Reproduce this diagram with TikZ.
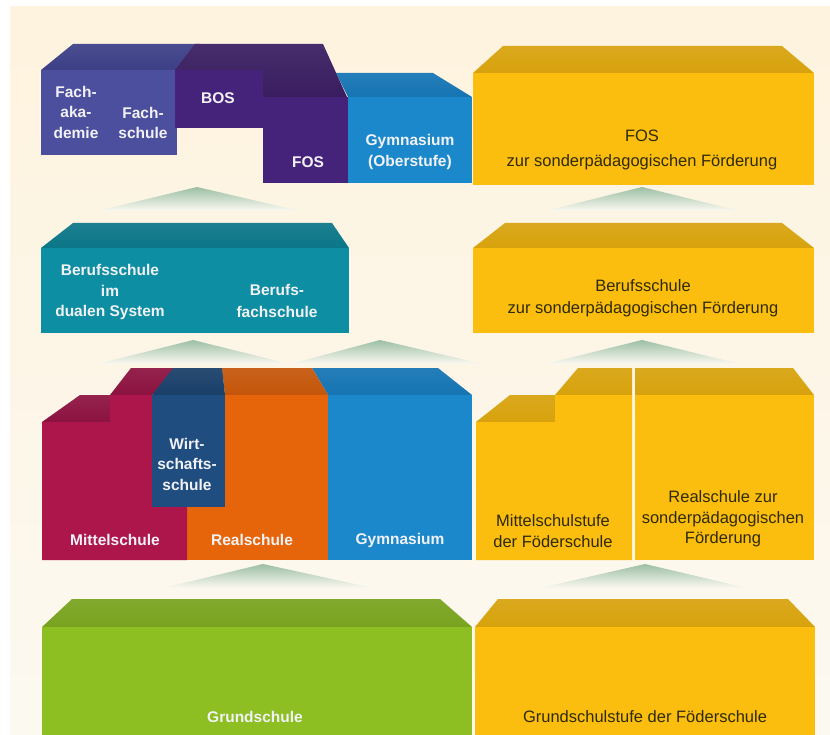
\documentclass[tikz,border=0pt]{standalone}
\usepackage{fontspec}
\setmainfont{Liberation Sans}

\definecolor{bgtop}{HTML}{FEF3DE}
\definecolor{bgbot}{HTML}{FCF9F1}
\definecolor{arrowgreen}{HTML}{9CBFA5}
\definecolor{labwhite}{HTML}{F2F2F6}
\definecolor{labdark}{HTML}{2E2A0C}
\definecolor{fachfront}{HTML}{4B4F9D}
\definecolor{fachtop}{HTML}{3D3F87}
\definecolor{bosfront}{HTML}{46237B}
\definecolor{bostop}{HTML}{391D60}
\definecolor{gymfront}{HTML}{1A88CA}
\definecolor{gymtop}{HTML}{1574B3}
\definecolor{yfront}{HTML}{FCBE0E}
\definecolor{ytop}{HTML}{D7A20C}
\definecolor{tealfront}{HTML}{0E8EA2}
\definecolor{tealtop}{HTML}{0A7688}
\definecolor{mittelfront}{HTML}{AD164B}
\definecolor{mitteltop}{HTML}{8C1240}
\definecolor{wirtfront}{HTML}{1F4D80}
\definecolor{wirttop}{HTML}{193E68}
\definecolor{realfront}{HTML}{E7650A}
\definecolor{realtop}{HTML}{C4560A}
\definecolor{grunfront}{HTML}{8DBE22}
\definecolor{gruntop}{HTML}{78A31E}

\begin{document}
\begin{tikzpicture}[x=1pt,y=-1pt,
    face/.style={fill=#1},
    roof/.style={top color=#1!93!white,bottom color=#1},
    lbl/.style={text=labwhite,font=\bfseries\fontsize{15.5}{20.5}\selectfont,align=center,inner sep=0pt},
    dlbl/.style={text=labdark,font=\fontsize{16.5}{20.5}\selectfont,align=center,inner sep=0pt}]

    \useasboundingbox (0,0) rectangle (830,735);
    \fill[white] (0,0) rectangle (830,735);
    \shade[top color=bgtop,bottom color=bgbot] (10,7) rectangle (830,735);

    % arrows between the levels
    \foreach \ax/\ay/\bl/\br in {197/187/97/300, 642/187/545/740,
            193/340/97/290, 380/340/290/483, 642/340/545/740,
            263/564/163/373, 645/564/540/747} {
            \shade[top color=arrowgreen,bottom color=bgbot]
                (\bl,\ay+24) -- (\ax,\ay) -- (\br,\ay+24) -- cycle;
        }

    % level 1
    \shade[roof=fachtop] (41,70) -- (73,44) -- (200,44) -- (180,70) -- cycle;
    \fill[face=fachfront] (41,70) rectangle (177,155);
    \shade[roof=gymtop] (336,73) -- (433,73) -- (472,97) -- (348,97) -- cycle;
    \fill[face=gymfront] (348,97) rectangle (472,183);
    \shade[roof=bostop] (175,70) -- (195,44) -- (323,44) -- (347,97)
        -- (263,97) -- (263,70) -- cycle;
    \fill[face=bosfront] (175,70) rectangle (263,128);
    \fill[face=bosfront] (263,97) rectangle (348,183);

    \shade[roof=ytop] (473,73) -- (503,46) -- (782,46) -- (814,73) -- cycle;
    \fill[face=yfront] (473,73) rectangle (814,185);

    % level 2
    \shade[roof=tealtop] (41,248) -- (73,223) -- (332,223) -- (349,248) -- cycle;
    \fill[face=tealfront] (41,248) rectangle (349,333);
    \shade[roof=ytop] (473,248) -- (505,223) -- (782,223) -- (814,248) -- cycle;
    \fill[face=yfront] (473,248) rectangle (814,333);

    % level 3
    \shade[roof=gymtop] (328,395) -- (312,368) -- (438,368) -- (472,395) -- cycle;
    \fill[face=gymfront] (328,395) rectangle (472,560);
    \shade[roof=realtop] (225,395) -- (222,368) -- (312,368) -- (328,395) -- cycle;
    \fill[face=realfront] (187,395) rectangle (328,560);
    \shade[roof=mitteltop] (42,422) -- (80,395) -- (110,395) -- (110,422) -- cycle;
    \shade[roof=mitteltop] (110,395) -- (131,368) -- (175,368) -- (152,395) -- cycle;
    \fill[face=mittelfront] (42,422) -- (110,422) -- (110,395) -- (152,395)
        -- (152,507) -- (187,507) -- (187,560) -- (42,560) -- cycle;
    \shade[roof=wirttop] (152,395) -- (173,368) -- (222,368) -- (225,395) -- cycle;
    \fill[face=wirtfront] (152,395) rectangle (225,507);

    \shade[roof=ytop] (476,422) -- (510,395) -- (555,395) -- (555,422) -- cycle;
    \shade[roof=ytop] (555,395) -- (578,368) -- (632,368) -- (632,395) -- cycle;
    \fill[face=yfront] (476,422) -- (555,422) -- (555,395) -- (632,395)
        -- (632,560) -- (476,560) -- cycle;
    \shade[roof=ytop] (635,395) -- (635,368) -- (793,368) -- (814,395) -- cycle;
    \fill[face=yfront] (635,395) rectangle (814,560);

    % level 4
    \shade[roof=gruntop] (42,627) -- (72,599) -- (440,599) -- (472,627) -- cycle;
    \fill[face=grunfront] (42,627) rectangle (472,735);
    \shade[roof=ytop] (475,627) -- (498,599) -- (788,599) -- (815,627) -- cycle;
    \fill[face=yfront] (475,627) rectangle (815,735);

    % labels
    \begin{scope}[lbl]
        \node (fachakad) at (76,112) {Fach-\\aka-\\demie};
        \node (fachschule) at (143,123) {Fach-\\schule};
        \node (bos) at (218,98) {BOS};
        \node (fos) at (308,162) {FOS};
        \node (gymob) at (410,152) {Gymnasium\\(Oberstufe)};
        \node (berufsdual) at (110,292) {Berufsschule\\im\\dualen System};
        \node (berufsfach) at (277,301) {Berufs-\\[1.5pt]fachschule};
        \node (wirtschaft) at (187,464) {Wirt-\\schafts-\\schule};
        \node (mittel) at (115,540) {Mittelschule};
        \node (real) at (252,540) {Realschule};
        \node (gym) at (400,540) {Gymnasium};
        \node (grund) at (255,717) {Grundschule};
    \end{scope}
    \begin{scope}[dlbl]
        \node (fosfoerd) at (642,150) {FOS\\[4pt]zur sonderpädagogischen Förderung};
        \node (berufsfoerd) at (643,298) {Berufsschule\\[2pt]zur sonderpädagogischen Förderung};
        \node (mittelfoerd) at (553,531) {Mittelschulstufe\\der Föderschule};
        \node (realfoerd) at (723,519) {Realschule zur\\sonderpädagogischen\\Förderung};
        \node (grundfoerd) at (645,717) {Grundschulstufe der Föderschule};
    \end{scope}
\end{tikzpicture}
\end{document}
